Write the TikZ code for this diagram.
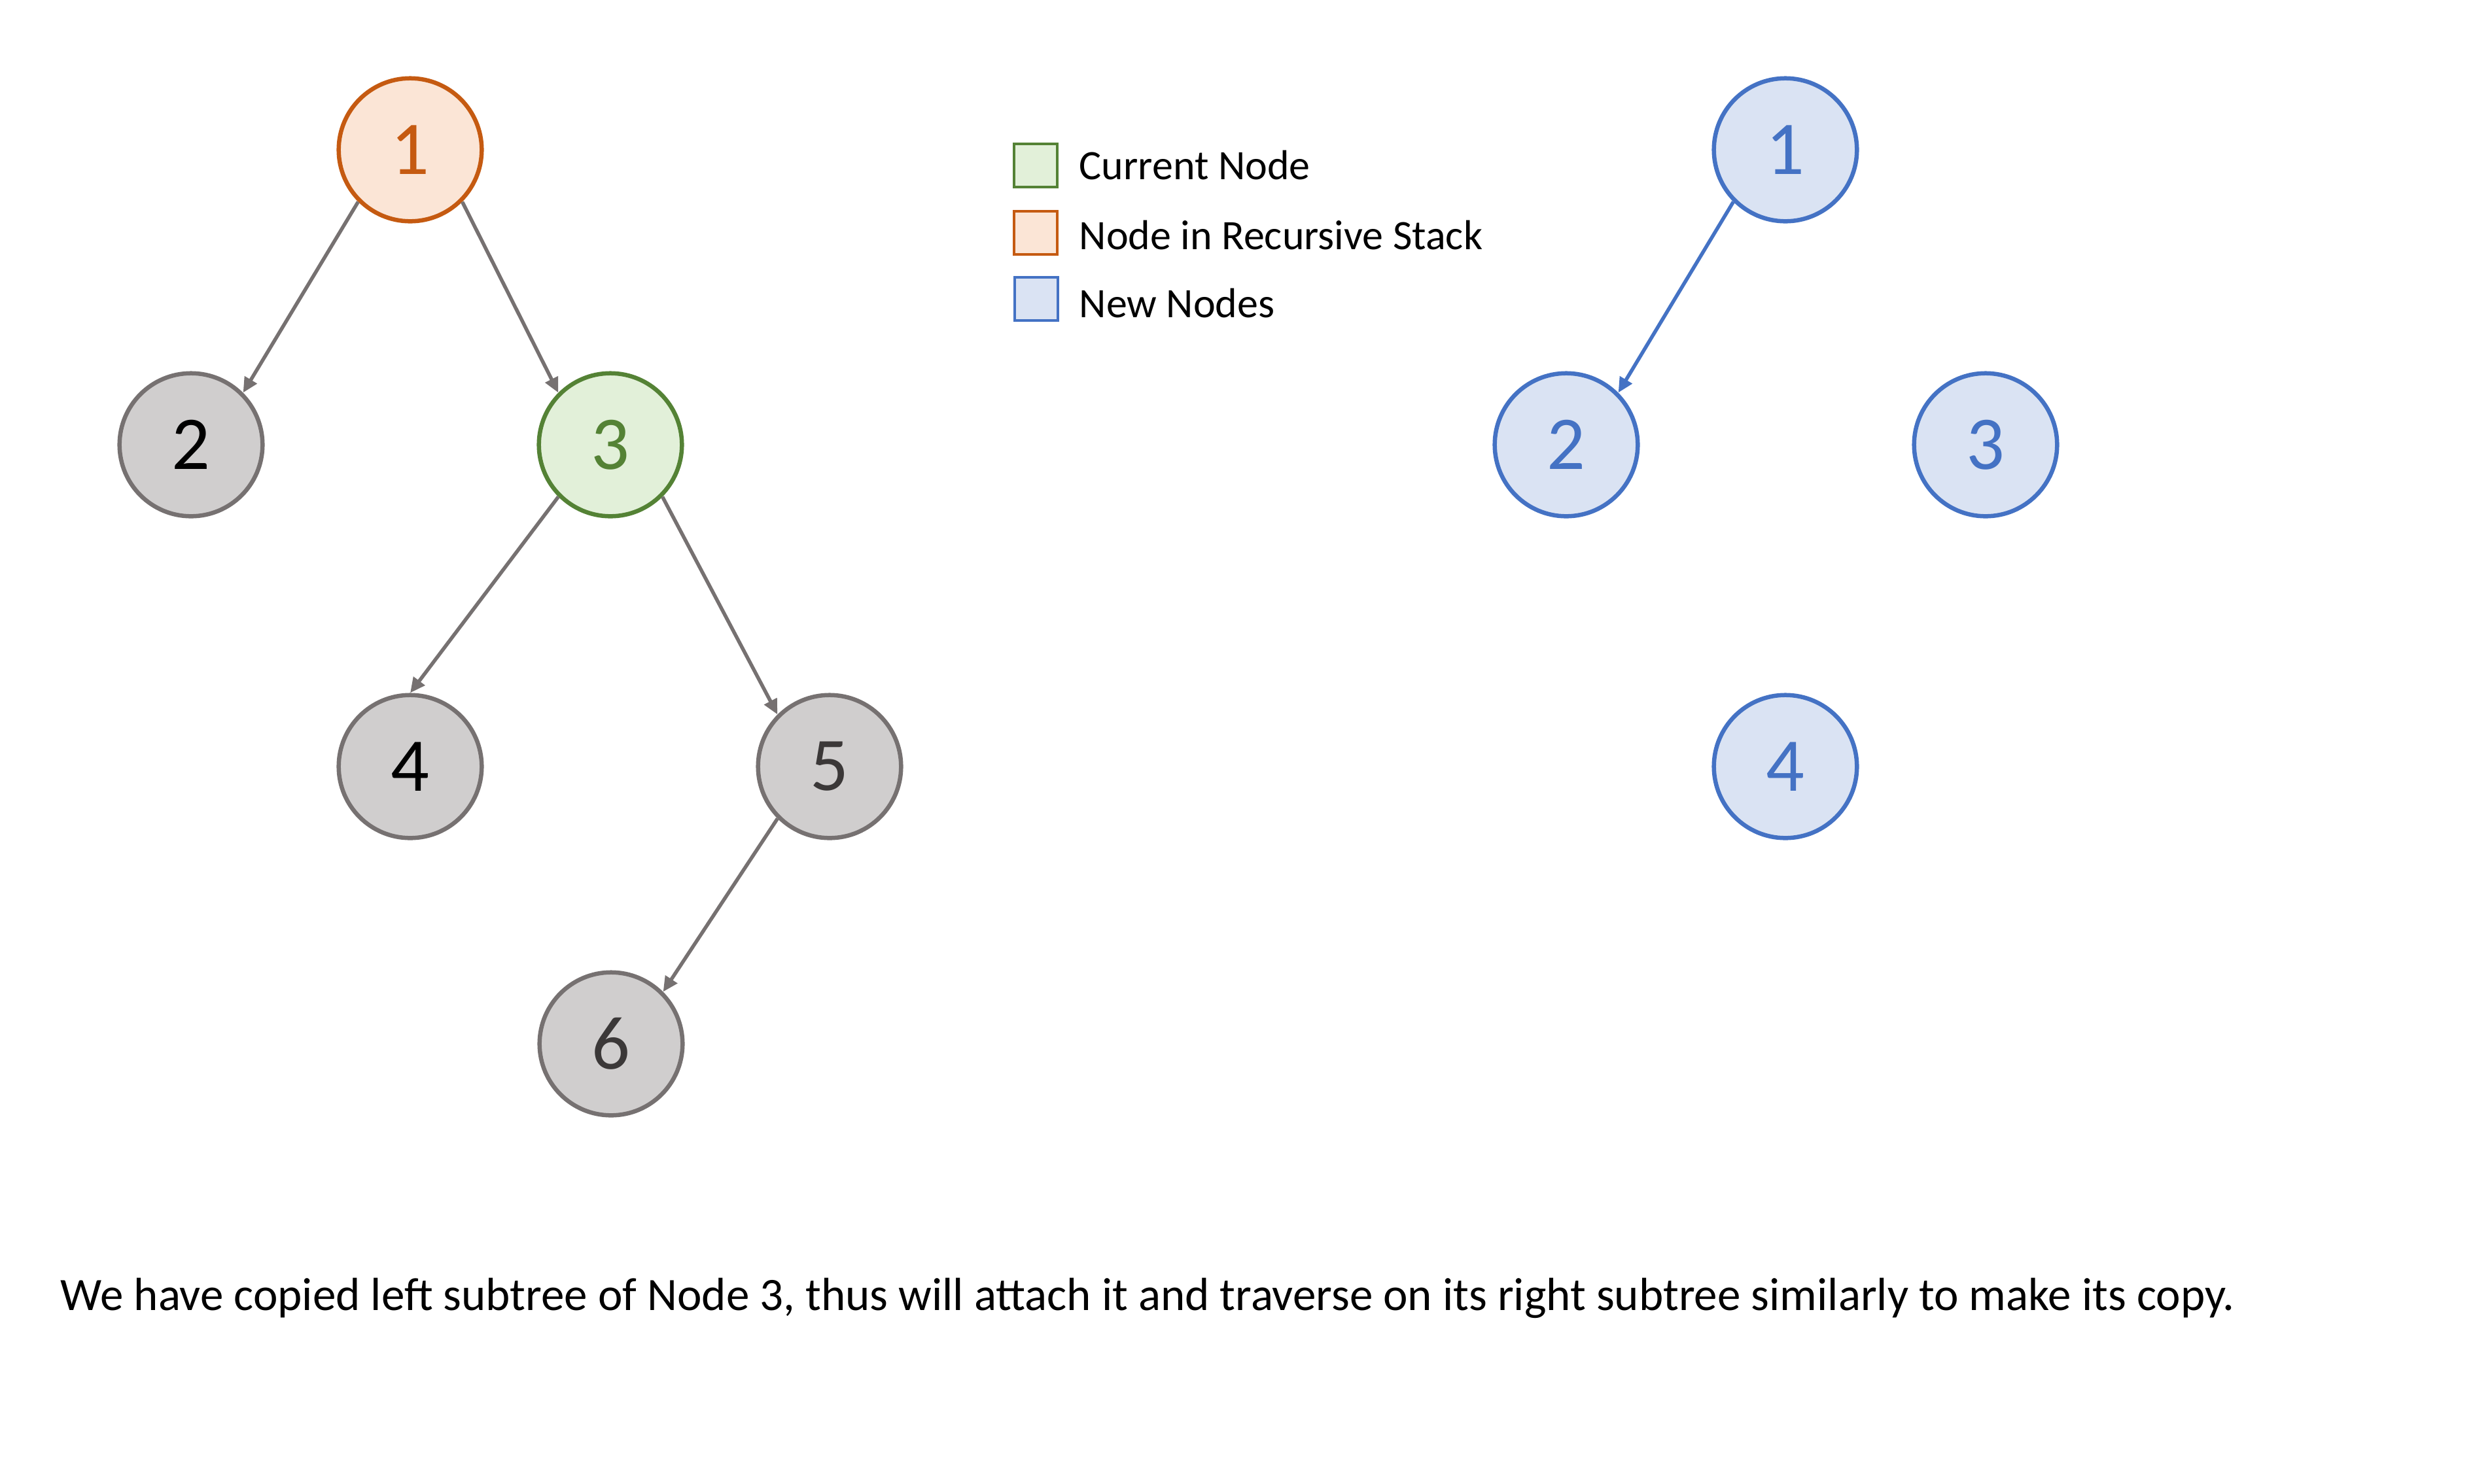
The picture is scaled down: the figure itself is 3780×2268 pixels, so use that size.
\documentclass[tikz,border=0pt]{standalone}
\usepackage{fontspec}
\setmainfont{Carlito}
\usetikzlibrary{arrows.meta}

\definecolor{recline}{HTML}{C55A11}
\definecolor{recfill}{HTML}{FBE5D6}
\definecolor{curline}{HTML}{548235}
\definecolor{curfill}{HTML}{E2F0D9}
\definecolor{newline}{HTML}{4472C4}
\definecolor{newfill}{HTML}{DAE3F3}
\definecolor{oldline}{HTML}{767171}
\definecolor{oldfill}{HTML}{D0CECE}
\definecolor{oldtext}{HTML}{3B3838}

\tikzset{
  tnode/.style={circle, minimum size=2.185cm, inner sep=0pt, line width=0.065cm,
    font=\fontsize{33}{33}\selectfont},
  recnode/.style={tnode, draw=recline, fill=recfill, text=recline},
  curnode/.style={tnode, draw=curline, fill=curfill, text=curline},
  newnode/.style={tnode, draw=newline, fill=newfill, text=newline},
  oldnode/.style={tnode, draw=oldline, fill=oldfill, text=black},
  oldnodeb/.style={oldnode, text=oldtext},
  edge/.style={line width=0.055cm, -{Triangle[length=0.23cm, width=0.21cm]}},
  oldedge/.style={edge, draw=oldline},
  newedge/.style={edge, draw=newline},
  legbox/.style={rectangle, minimum width=0.66cm, minimum height=0.66cm, inner sep=0pt,
    line width=0.035cm},
  legtext/.style={anchor=base west, inner sep=0pt, font=\fontsize{18.2}{18.2}\selectfont}
}

\begin{document}
\begin{tikzpicture}[x=0.01cm, y=-0.01cm]
  \useasboundingbox[fill=white] (0,0) rectangle (3780,2268);

  % original tree
  \node[recnode]  (a1) at (627,229)   {1};
  \node[oldnode]  (a2) at (292,680)   {2};
  \node[curnode]  (a3) at (933,680)   {3};
  \node[oldnode]  (a4) at (627,1172)  {4};
  \node[oldnodeb] (a5) at (1268,1172) {5};
  \node[oldnodeb] (a6) at (934,1596)  {6};

  \draw[oldedge] (a1.south west) -- (a2.north east);
  \draw[oldedge] (a1.south east) -- (a3.north west);
  \draw[oldedge] (a3.south west) -- (a4.north);
  \draw[oldedge] (a3.south east) -- (a5.north west);
  \draw[oldedge] (a5.south west) -- (a6.north east);

  % copy being built
  \node[newnode] (b1) at (2729,229)  {1};
  \node[newnode] (b2) at (2394,680)  {2};
  \node[newnode] (b3) at (3035,680)  {3};
  \node[newnode] (b4) at (2729,1172) {4};

  \draw[newedge] (b1.south west) -- (b2.north east);

  % legend
  \node[legbox, draw=curline, fill=curfill] (k1) at (1583,253) {};
  \node[legbox, draw=recline, fill=recfill] (k2) at (1583,356) {};
  \node[legbox, draw=newline, fill=newfill] (k3) at (1584,457) {};
  \node[legtext] (t1) at (1649,274) {Current Node};
  \node[legtext] (t2) at (1649,381) {Node in Recursive Stack};
  \node[legtext] (t3) at (1649,485) {New Nodes};

  % caption
  \node[anchor=base west, inner sep=0pt, font=\fontsize{20.2}{20.2}\selectfont] (cap) at (92,2003)
    {We have copied left subtree of Node 3, thus will attach it and traverse on its right subtree similarly to make its copy.};
\end{tikzpicture}
\end{document}
